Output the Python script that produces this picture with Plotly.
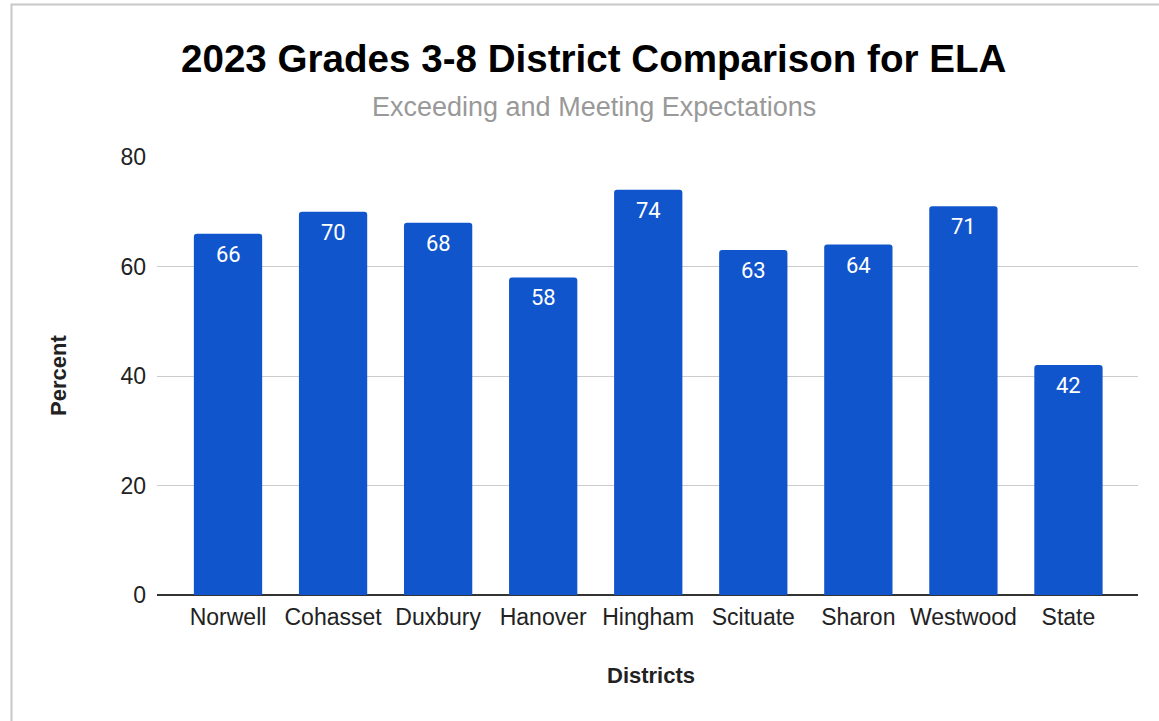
import plotly.graph_objects as go

# ── Dados ────────────────────────────────────────────────────────────────────
districts = ["Norwell", "Cohasset", "Duxbury", "Hanover", "Hingham",
             "Scituate", "Sharon", "Westwood", "State"]
percent = [66, 70, 68, 58, 74, 63, 64, 71, 42]
y_ticks = [0, 20, 40, 60, 80]

BLUE = "#1155CC"
FONT = "Liberation Sans, Arial, sans-serif"
TXT = "#222222"

fig = go.Figure(go.Bar(
    x=districts,
    y=percent,
    marker_color=BLUE,
    marker_line_width=0,
    marker_cornerradius=3,
    hoverinfo="x+y",
))

# rótulos de valor dentro da barra, no topo
for d, v in zip(districts, percent):
    fig.add_annotation(
        x=d, y=v, text=str(v), showarrow=False,
        yanchor="top", yshift=-6,
        font=dict(family="Roboto, Arial, sans-serif", size=22, color="white"),
    )

# título, subtítulo e títulos dos eixos
fig.add_annotation(
    text="<b>2023 Grades 3-8 District Comparison for ELA</b>",
    xref="paper", yref="paper", x=0.445, y=1, yshift=99,
    xanchor="center", yanchor="middle", showarrow=False,
    font=dict(family=FONT, size=38.6, color="black"),
)
fig.add_annotation(
    text="Exceeding and Meeting Expectations",
    xref="paper", yref="paper", x=0.445, y=1, yshift=50,
    xanchor="center", yanchor="middle", showarrow=False,
    font=dict(family=FONT, size=27, color="#999999"),
)
fig.add_annotation(
    text="<b>Percent</b>",
    xref="paper", yref="paper", x=0, y=0.5, xshift=-99, textangle=-90,
    xanchor="center", yanchor="middle", showarrow=False,
    font=dict(family=FONT, size=22, color=TXT),
)
fig.add_annotation(
    text="<b>Districts</b>",
    xref="paper", yref="paper", x=0.5, y=0, yshift=-80, xshift=3,
    xanchor="center", yanchor="middle", showarrow=False,
    font=dict(family=FONT, size=22, color=TXT),
)

fig.update_layout(
    width=1159, height=721,
    plot_bgcolor="white", paper_bgcolor="white",
    font=dict(family=FONT, color=TXT),
    margin=dict(t=157, b=126, l=157, r=21),
    bargap=0.35,
    showlegend=False,
)

fig.update_xaxes(
    range=[-0.676, 8.662],
    showgrid=False, showline=False, ticks="",
    ticklabelstandoff=6,
    tickfont=dict(size=23, color=TXT),
)
fig.update_yaxes(
    range=[0, 80], tickvals=y_ticks,
    showgrid=True, gridcolor="#CCCCCC", gridwidth=1,
    zeroline=True, zerolinecolor="#333333", zerolinewidth=2,
    showline=False, ticks="",
    ticklabelstandoff=10,
    tickfont=dict(size=23, color=TXT),
)

# moldura cinza clara do gráfico original
fig.add_shape(
    type="rect", xref="paper", yref="paper",
    x0=(11.5 - 157) / 981, x1=(1175 - 157) / 981,
    y0=(595 - 740) / 438, y1=(595 - 4.5) / 438,
    line=dict(color="#C8C8C8", width=2), fillcolor="rgba(0,0,0,0)",
    layer="below",
)

fig.write_html(
    "out.html",
    config={"displayModeBar": False},
    post_script="document.body.style.margin='0';",
)
